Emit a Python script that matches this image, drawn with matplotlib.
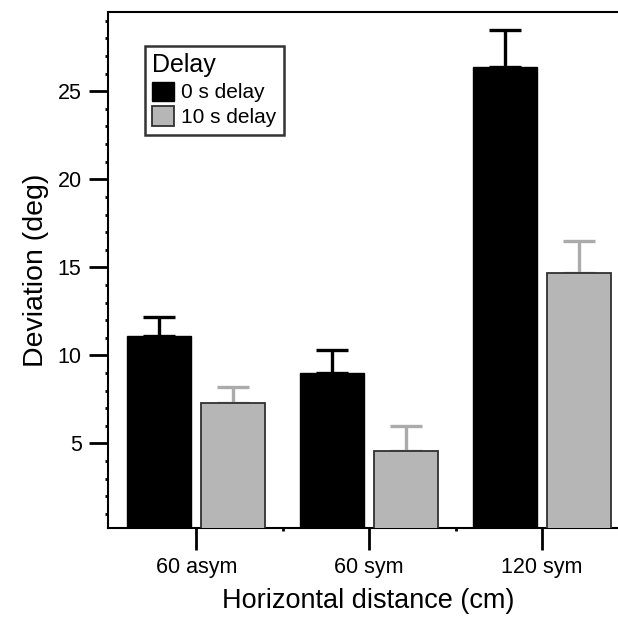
import numpy as np
import matplotlib.pyplot as plt
from matplotlib.ticker import MultipleLocator

plt.rcParams['font.family'] = ['Liberation Sans', 'DejaVu Sans']

# data
categories = ['60 asym', '60 sym', '120 sym']
delay0 = [11.1, 9.0, 26.4]
delay0_err = [1.1, 1.3, 2.1]
delay10 = [7.3, 4.6, 14.7]
delay10_err = [0.9, 1.4, 1.8]

x = np.arange(len(categories))
width = 0.37
offset = 0.214

fig = plt.figure(figsize=(6.18, 6.18), dpi=100)
# right edge runs past the figure, as in the cropped original
ax = fig.add_axes([108 / 618, 90 / 618, 520.5 / 618, 516 / 618])

ax.bar(x - offset, delay0, width, color='black', edgecolor='black',
       linewidth=1, label='0 s delay', zorder=3)
ax.bar(x + offset, delay10, width, color='#b6b6b6', edgecolor='#303030',
       linewidth=1.3, label='10 s delay', zorder=3)

# one-sided (upper) error bars
ax.errorbar(x - offset, delay0, yerr=[np.zeros(3), delay0_err], fmt='none',
            ecolor='black', elinewidth=2.4, capsize=11.5, capthick=2.4, zorder=2)
ax.errorbar(x + offset, delay10, yerr=[np.zeros(3), delay10_err], fmt='none',
            ecolor='#ababab', elinewidth=2.4, capsize=11.5, capthick=2.4, zorder=2)

ax.set_xlim(-0.51, 2.5)
ax.set_ylim(0.2, 29.5)

ax.set_xticks(x)
ax.set_xticklabels(categories, fontsize=15.5)
ax.set_xticks(x[:-1] + 0.5, minor=True)
ax.set_yticks([5, 10, 15, 20, 25])
ax.yaxis.set_minor_locator(MultipleLocator(1))
ax.tick_params(axis='y', labelsize=15.5)

ax.tick_params(axis='x', which='major', direction='out', length=16, width=2, pad=5)
ax.tick_params(axis='y', which='major', direction='out', length=14, width=2, pad=5)
ax.tick_params(axis='both', which='minor', direction='out', length=2.5, width=2)

for side in ['left', 'bottom', 'top', 'right']:
    ax.spines[side].set_linewidth(1.5)

ax.set_xlabel('Horizontal distance (cm)', fontsize=19.5, labelpad=7)
ax.set_ylabel('Deviation (deg)', fontsize=20.5, labelpad=6)

leg = ax.legend(title='Delay', loc='upper left', bbox_to_anchor=(0.071, 0.934),
                borderaxespad=0, fontsize=15, title_fontsize=18, frameon=True,
                fancybox=False, edgecolor='black', handlelength=1.05,
                handleheight=1.05, handletextpad=0.35, borderpad=0.35,
                labelspacing=0.2)
leg._legend_box.align = 'left'
leg.get_frame().set_linewidth(1.8)

plt.savefig('out.png', dpi=100)
